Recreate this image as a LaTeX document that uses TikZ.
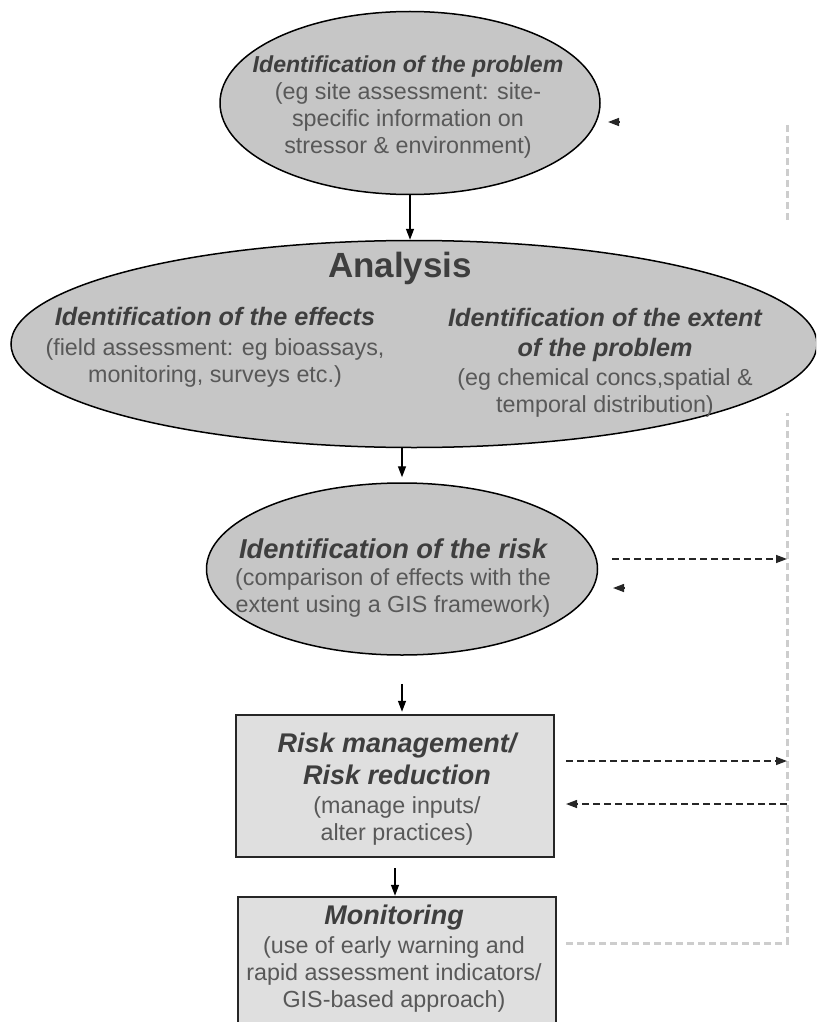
\documentclass[tikz,border=0pt]{standalone}
\usepackage{fontspec}
\setmainfont{Liberation Sans}
\usepackage{tikz}
\usetikzlibrary{arrows.meta}
\usetikzlibrary{shapes.geometric}

\definecolor{shapegray}{RGB}{198,198,198}
\definecolor{boxgray}{RGB}{223,223,223}
\definecolor{bodygray}{RGB}{88,88,88}
\definecolor{titlegray}{RGB}{62,62,62}
\definecolor{fbgray}{RGB}{205,205,205}

\newcommand{\hd}[2]{{\fontsize{#1}{30}\selectfont\bfseries\itshape\color{titlegray}#2}}

\begin{document}
\begin{tikzpicture}[x=1pt,y=-1pt]
      \clip (0,0) rectangle (816,1022);

      \begin{scope}[every node/.style={ellipse,draw=black,line width=1.5pt,fill=shapegray,inner sep=0pt}]
        \node[minimum width=380pt,minimum height=183pt] (prob) at (410,103) {};
        \node[minimum width=806pt,minimum height=207pt] (anal) at (414,344) {};
        \node[minimum width=391pt,minimum height=172pt] (risk) at (402,569) {};
      \end{scope}

      \begin{scope}[every node/.style={rectangle,draw=black!85,line width=2.5pt,fill=boxgray,inner sep=0pt,minimum width=318pt}]
        \node[minimum height=142pt] (mgmt) at (395,786) {};
        \node[minimum height=150pt] (mon) at (397,972) {};
      \end{scope}

      \begin{scope}[every node/.style={align=center,text=bodygray,inner sep=0pt,
          font=\fontsize{23.3}{27}\selectfont}]
        \node (probtxt) at (408,107) {\hd{23.1}{Identification of the problem}\\(eg site assessment: site-\\specific information on\\stressor \& environment)};
        \node (analtxt) at (400,268) {\fontsize{35}{40}\selectfont\bfseries\color{titlegray}Analysis};
        \node (efftxt) at (215,347) {\hd{25.2}{Identification of the effects}\\[3pt](field assessment: eg bioassays,\\monitoring, surveys etc.)};
        \node (exttxt) at (605,363) {\hd{25.2}{Identification of the extent}\\[3pt]\hd{25.2}{of the problem}\\[2pt](eg chemical concs,spatial \&\\temporal distribution)};
        \node (risktxt) at (393,578) {\hd{27.3}{Identification of the risk}\\(comparison of effects with the\\extent using a GIS framework)};
        \node (mgmttxt) at (397,789) {\hd{27}{Risk management/}\\[5pt]\hd{27}{Risk reduction}\\[2pt](manage inputs/\\alter practices)};
        \node (montxt) at (394,959) {\hd{27}{Monitoring}\\[2pt](use of early warning and\\rapid assessment indicators/\\GIS-based approach)};
      \end{scope}

      \coordinate (fbA) at (787,125);
      \coordinate (fbB) at (787,223);
      \coordinate (fbC) at (787,413);
      \coordinate (fbD) at (787,943);
      \coordinate (probIn) at (608,122);
      \coordinate (riskOut) at (612,559);
      \coordinate (riskIn) at (613,588);
      \coordinate (mgmtOut) at (566,761);
      \coordinate (mgmtIn) at (566,804);
      \coordinate (monOut) at (566,943);

      \begin{scope}[>={Triangle[length=11pt,width=8pt]},
          every edge/.style={draw=black,line width=1.4pt}]
        \path [->] (prob.south) edge (prob.south |- anal.north);
        \path [->] (risk.north |- anal.south) edge[shorten >=5pt] (risk.north);
        \path [->] (risk.south) edge[shorten <=28pt,shorten >=2pt] (risk.south |- mgmt.north);
        \path [->] (mgmt.south) edge[shorten <=10pt] (mgmt.south |- mon.north);
      \end{scope}

      % feedback loop on the right
      \begin{scope}[fbgray,line width=3pt,dash pattern=on 7pt off 4pt]
        \draw (fbA) -- (fbB);
        \draw (monOut) -- (fbD) -- (fbC);
      \end{scope}

      \begin{scope}[>={Triangle[length=11pt,width=8pt]},
          every edge/.style={draw=black!85,line width=1.4pt,dash pattern=on 7pt off 4pt}]
        \path [->] (riskOut) edge (riskOut -| fbA);
        \path [->] (mgmtOut) edge (mgmtOut -| fbA);
        \path [->] (mgmtIn -| fbA) edge (mgmtIn);
        \path [->] ([xshift=11pt]probIn) edge (probIn);
        \path [->] ([xshift=11pt]riskIn) edge (riskIn);
      \end{scope}
    \end{tikzpicture}
\end{document}
